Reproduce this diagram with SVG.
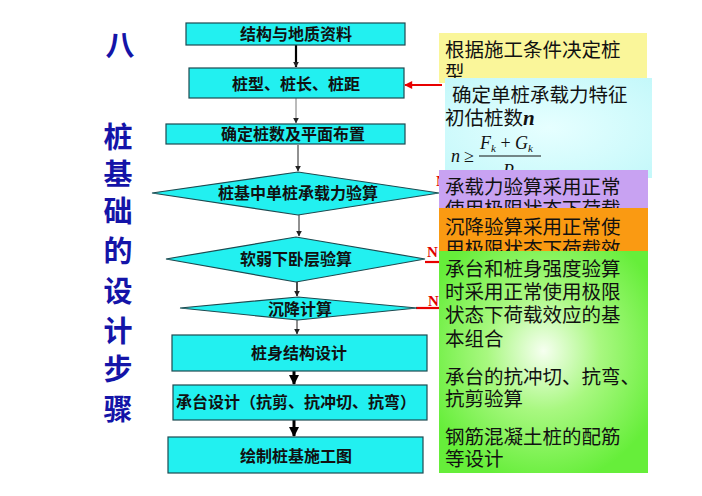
<svg xmlns="http://www.w3.org/2000/svg" width="702" height="496" viewBox="0 0 702 496">
<style>
.box{fill:#22F0F0;stroke:#1d4a50;stroke-width:1.2}
.ft{font-family:"Noto Sans CJK SC","Liberation Sans",sans-serif;font-size:16px;font-weight:bold;fill:#111;text-anchor:middle}
.side{font-family:"Noto Sans CJK SC","Liberation Sans",sans-serif;font-size:29px;font-weight:bold;fill:#1414A8;text-anchor:middle}
.rt{font-family:"Noto Sans CJK SC","Liberation Sans",sans-serif;font-size:19.5px;fill:#111}
.math{font-family:"Liberation Serif",serif;font-style:italic;fill:#111}
.nl{font-family:"Liberation Serif",serif;font-weight:bold;font-size:15px;fill:#E00000}
.thin{stroke:#222;stroke-width:1;fill:none}
.thick{stroke:#000;stroke-width:3;fill:none}
.red{stroke:#E80000;stroke-width:2.2;fill:none}
</style>
<defs>
<marker id="ah" viewBox="0 0 10 10" refX="9" refY="5" markerWidth="6" markerHeight="6" orient="auto" markerUnits="userSpaceOnUse"><path d="M0,0 L10,5 L0,10 z" fill="#222"/></marker>
<marker id="ahb" viewBox="0 0 10 10" refX="9" refY="5" markerWidth="10" markerHeight="10" orient="auto" markerUnits="userSpaceOnUse"><path d="M0,0 L10,5 L0,10 z" fill="#000"/></marker>
<marker id="ahr" viewBox="0 0 10 10" refX="9" refY="5" markerWidth="9" markerHeight="8" orient="auto" markerUnits="userSpaceOnUse"><path d="M0,0 L10,5 L0,10 z" fill="#E80000"/></marker>
<radialGradient id="gg" cx="0.5" cy="0.45" r="0.6">
<stop offset="0" stop-color="#F6FFF0"/>
<stop offset="0.45" stop-color="#A8F880"/>
<stop offset="1" stop-color="#66EE3A"/>
</radialGradient>
<radialGradient id="cg" cx="0.5" cy="0.5" r="0.7">
<stop offset="0" stop-color="#E6FFFF"/>
<stop offset="1" stop-color="#C4F8FA"/>
</radialGradient>
</defs>
<rect width="702" height="496" fill="#fff"/>

<g id="title">
<text class="side" x="120" y="56">八</text>
<text class="side" x="118" y="148">桩</text>
<text class="side" x="118" y="185">基</text>
<text class="side" x="118" y="222">础</text>
<text class="side" x="118" y="262">的</text>
<text class="side" x="118" y="302">设</text>
<text class="side" x="118" y="342">计</text>
<text class="side" x="118" y="380">步</text>
<text class="side" x="118" y="420">骤</text>
</g>

<g id="connectors">
<line class="thin" x1="296" y1="45" x2="296" y2="67" style="stroke-width:2.2;stroke:#000" marker-end="url(#ah)"/>
<line class="thin" x1="296" y1="98" x2="296" y2="123" style="stroke:#777" marker-end="url(#ah)"/>
<line class="thin" x1="298" y1="145" x2="298" y2="171" marker-end="url(#ah)"/>
<line class="thin" x1="299" y1="215" x2="299" y2="236" marker-end="url(#ah)"/>
<line class="thin" x1="297" y1="282" x2="297" y2="296" style="stroke-width:1.6" marker-end="url(#ah)"/>
<line class="thin" x1="297" y1="320" x2="297" y2="334" marker-end="url(#ah)"/>
<line class="thick" x1="294" y1="371" x2="294" y2="384" marker-end="url(#ahb)"/>
<line class="thick" x1="294" y1="420" x2="294" y2="436" marker-end="url(#ahb)"/>
<line class="red" x1="442" y1="85" x2="405" y2="85" marker-end="url(#ahr)"/>
<line class="red" x1="425" y1="262" x2="442" y2="262"/>
<line class="red" x1="416" y1="308" x2="442" y2="308"/>
<text class="nl" x="427" y="257">N</text>
<text class="nl" x="428" y="306">N</text>
<text class="nl" x="436" y="186">N</text>
</g>

<g id="n1"><rect class="box" x="186" y="23" width="219" height="22"/><text class="ft" x="296" y="40">结构与地质资料</text></g>
<g id="n2"><rect class="box" x="189" y="68" width="215" height="30"/><text class="ft" x="296" y="90">桩型、桩长、桩距</text></g>
<g id="n3"><rect class="box" x="166" y="124" width="239" height="20"/><text class="ft" x="293" y="140">确定桩数及平面布置</text></g>
<g id="n4"><polygon class="box" points="152,193 298,172 439,193 298,215"/><text class="ft" x="298" y="199">桩基中单桩承载力验算</text></g>
<g id="n5"><polygon class="box" points="166,259 296,237 425,259 296,282"/><text class="ft" x="296" y="265">软弱下卧层验算</text></g>
<g id="n6"><polygon class="box" points="180,308 298,297 417,308 298,320"/><text class="ft" x="300" y="315">沉降计算</text></g>
<g id="n7"><rect class="box" x="172" y="335" width="255" height="36"/><text class="ft" x="299" y="359">桩身结构设计</text></g>
<g id="n8"><rect class="box" x="173" y="385" width="254" height="35"/><text class="ft" x="296" y="408">承台设计（抗剪、抗冲切、抗弯）</text></g>
<g id="n9"><rect class="box" x="168" y="437" width="255" height="36"/><text class="ft" x="296" y="462">绘制桩基施工图</text></g>

<g id="note1"><rect x="439" y="33" width="208" height="50" fill="#FAF69A"/>
<text class="rt" x="445" y="57">根据施工条件决定桩</text>
<text class="rt" x="445" y="80">型</text></g>
<g id="note2"><rect x="445" y="78" width="207" height="100" fill="url(#cg)"/>
<text class="rt" x="452" y="102">确定单桩承载力特征</text>
<text class="rt" x="445" y="125">初估桩数<tspan class="math" font-weight="bold" font-size="21">n</tspan></text>
<text class="math" font-size="18" x="451" y="162">n</text>
<text font-family="Liberation Serif,serif" font-size="18" fill="#111" x="464" y="162">≥</text>
<line x1="479" y1="156" x2="541" y2="156" stroke="#111" stroke-width="1"/>
<text class="math" font-size="18" x="480" y="149">F<tspan font-size="11" dy="3">k</tspan><tspan font-style="normal" dy="-3"> + </tspan>G<tspan font-size="11" dy="3">k</tspan></text>
<text class="math" font-size="18" x="503" y="177">R</text></g>
<g id="note3"><rect x="439" y="170" width="209" height="45" fill="#C8A2F2"/>
<text class="rt" x="445" y="194">承载力验算采用正常</text>
<text class="rt" x="445" y="216">使用极限状态下荷载</text></g>
<g id="note4"><rect x="439" y="208" width="209" height="45" fill="#FA9A12"/>
<text class="rt" x="445" y="234">沉降验算采用正常使</text>
<text class="rt" x="445" y="256">用极限状态下荷载效</text></g>
<g id="note5"><rect x="439" y="251" width="209" height="222" fill="url(#gg)"/>
<text class="rt" x="445" y="276">承台和桩身强度验算</text>
<text class="rt" x="445" y="299">时采用正常使用极限</text>
<text class="rt" x="445" y="322">状态下荷载效应的基</text>
<text class="rt" x="445" y="346">本组合</text>
<text class="rt" x="445" y="384">承台的抗冲切、抗弯、</text>
<text class="rt" x="445" y="406">抗剪验算</text>
<text class="rt" x="445" y="444">钢筋混凝土桩的配筋</text>
<text class="rt" x="445" y="466">等设计</text></g>
</svg>
